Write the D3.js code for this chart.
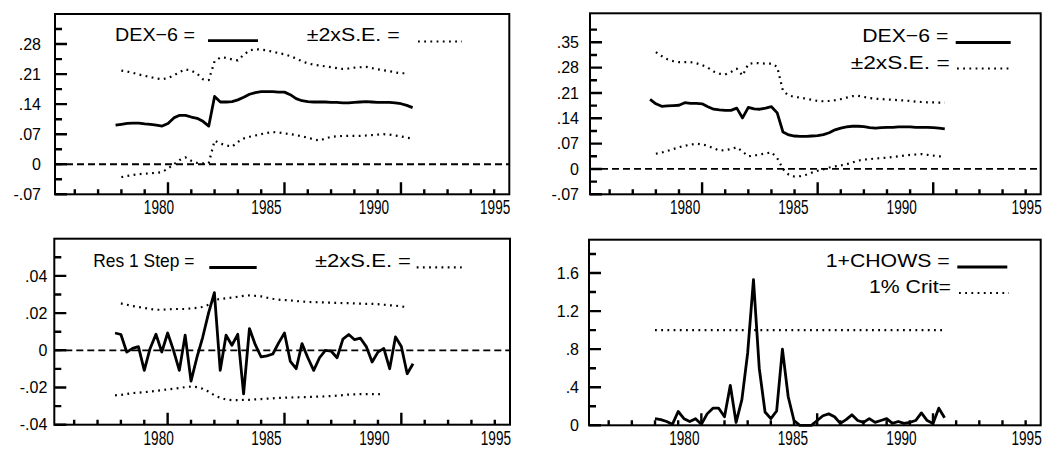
<!DOCTYPE html>
<html>
<head>
<meta charset="utf-8">
<script src="https://cdn.jsdelivr.net/npm/d3@7/dist/d3.min.js"></script>
<style>
  body { margin: 0; background: #fff; }
  svg { display: block; }
  text { font-family: "Liberation Sans", Arial, sans-serif; fill: #000; }
</style>
</head>
<body>
<svg id="chart" width="1059" height="456"></svg>
<script>
// 1 Data: quarterly recursive estimates, 1977 Q4 .. 1990 Q3
const firstQuarter = 1977.75;
const dates = d3.range(52).map((i) => firstQuarter + i / 4);

// top left: DEX-6 coefficient and +-2 S.E.
const dexA = [
  0.091, 0.093, 0.095, 0.096, 0.096, 0.094, 0.093, 0.091, 0.089, 0.095,
  0.108, 0.114, 0.114, 0.110, 0.107, 0.100, 0.089, 0.158, 0.145, 0.145,
  0.146, 0.150, 0.156, 0.163, 0.167, 0.169, 0.169, 0.169, 0.168, 0.168,
  0.162, 0.153, 0.148, 0.146, 0.145, 0.145, 0.145, 0.144, 0.144, 0.143,
  0.143, 0.144, 0.145, 0.146, 0.145, 0.144, 0.144, 0.144, 0.143, 0.141,
  0.137, 0.132,
];
const dexAUpper = [
  null, 0.218, 0.216, 0.213, 0.209, 0.206, 0.203, 0.200, 0.198, 0.201,
  0.207, 0.215, 0.221, 0.218, 0.211, 0.198, 0.196, 0.240, 0.249, 0.248,
  0.244, 0.242, 0.255, 0.265, 0.268, 0.267, 0.265, 0.262, 0.259, 0.256,
  0.252, 0.246, 0.240, 0.235, 0.232, 0.230, 0.228, 0.226, 0.224, 0.222,
  0.223, 0.225, 0.226, 0.227, 0.224, 0.221, 0.219, 0.217, 0.214, 0.212,
  0.212, null,
];
const dexALower = [
  null, -0.030, -0.027, -0.025, -0.023, -0.022, -0.021, -0.020, -0.018, -0.010,
  0.000, 0.010, 0.016, 0.008, 0.003, 0.002, 0.003, 0.055, 0.048, 0.044,
  0.041, 0.052, 0.060, 0.064, 0.067, 0.070, 0.073, 0.075, 0.074, 0.072,
  0.070, 0.068, 0.065, 0.062, 0.058, 0.055, 0.060, 0.064, 0.065, 0.066,
  0.066, 0.066, 0.066, 0.067, 0.068, 0.069, 0.070, 0.069, 0.067, 0.065,
  0.062, 0.060,
];

// top right: DEX-6 coefficient (second equation) and +-2 S.E.
const dexB = [
  0.192, 0.180, 0.173, 0.174, 0.175, 0.176, 0.183, 0.181, 0.181, 0.180,
  0.172, 0.165, 0.163, 0.162, 0.162, 0.168, 0.141, 0.170, 0.166, 0.165,
  0.168, 0.172, 0.155, 0.102, 0.094, 0.091, 0.090, 0.090, 0.091, 0.092,
  0.095, 0.100, 0.108, 0.113, 0.116, 0.118, 0.118, 0.117, 0.114, 0.113,
  0.114, 0.115, 0.115, 0.116, 0.116, 0.116, 0.115, 0.115, 0.115, 0.114,
  0.113, 0.111,
];
const dexBUpper = [
  null, 0.323, 0.312, 0.303, 0.298, 0.295, 0.295, 0.295, 0.292, 0.287,
  0.280, 0.269, 0.263, 0.261, 0.268, 0.277, 0.258, 0.290, 0.293, 0.292,
  0.291, 0.291, 0.282, 0.215, 0.203, 0.199, 0.197, 0.194, 0.191, 0.188,
  0.187, 0.188, 0.190, 0.193, 0.197, 0.201, 0.202, 0.199, 0.196, 0.194,
  0.193, 0.192, 0.191, 0.190, 0.189, 0.188, 0.186, 0.185, 0.184, 0.184,
  0.183, 0.183,
];
const dexBLower = [
  null, 0.042, 0.045, 0.050, 0.055, 0.060, 0.064, 0.067, 0.070, 0.068,
  0.064, 0.057, 0.051, 0.052, 0.055, 0.060, 0.048, 0.035, 0.037, 0.040,
  0.043, 0.046, 0.030, 0.000, -0.016, -0.021, -0.020, -0.016, -0.010, -0.005,
  -0.001, 0.004, 0.007, 0.010, 0.013, 0.018, 0.023, 0.026, 0.027, 0.029,
  0.030, 0.031, 0.033, 0.035, 0.037, 0.039, 0.040, 0.041, 0.039, 0.037,
  0.035, 0.034,
];

// bottom left: 1-step residuals and +-2 S.E.
const res1Step = [
  0.0093, 0.0085, -0.001, 0.001, 0.002, -0.0108, 0.001, 0.0086, -0.0009, 0.0093,
  0.000, -0.0108, 0.0081, -0.0166, -0.004, 0.007, 0.020, 0.031, -0.0108, 0.0081,
  0.0027, 0.0086, -0.0234, 0.0117, 0.003, -0.0036, -0.003, -0.002, 0.004, 0.0093,
  -0.006, -0.0099, 0.0036, -0.004, -0.0108, -0.004, 0.000, -0.0005, -0.004, 0.006,
  0.0085, 0.0057, 0.0065, 0.002, -0.0063, -0.001, 0.001, -0.0099, 0.0072, 0.002,
  -0.0126, -0.0072,
];
const resUpper = [
  null, 0.0252, 0.0245, 0.0238, 0.0233, 0.0228, 0.0222, 0.0218, 0.0218, 0.0220,
  0.0222, 0.0222, 0.0222, 0.0225, 0.0228, 0.0233, 0.0245, 0.0270, 0.0276, 0.0280,
  0.0283, 0.0288, 0.0293, 0.0295, 0.0293, 0.0290, 0.0283, 0.0277, 0.0272, 0.0270,
  0.0268, 0.0265, 0.0262, 0.0260, 0.0259, 0.0258, 0.0257, 0.0256, 0.0255, 0.0254,
  0.0254, 0.0252, 0.0251, 0.0250, 0.0250, 0.0248, 0.0245, 0.0242, 0.0240, 0.0236,
  0.0232, null,
];
const resLower = [
  -0.0242, -0.0240, -0.0235, -0.0230, -0.0228, -0.0225, -0.0222, -0.0218, -0.0214, -0.0210,
  -0.0207, -0.0203, -0.0198, -0.0195, -0.0198, -0.0207, -0.0222, -0.0242, -0.0255, -0.0265,
  -0.0268, -0.0268, -0.0267, -0.0266, -0.0264, -0.0262, -0.0260, -0.0258, -0.0256, -0.0255,
  -0.0254, -0.0253, -0.0252, -0.0251, -0.0250, -0.0249, -0.0248, -0.0246, -0.0244, -0.0241,
  -0.0238, -0.0237, -0.0236, -0.0236, -0.0236, -0.0236, -0.0237, null, null, null,
  null, null,
];

// bottom right: 1-step Chow tests and 1% critical value
const chows = [
  null, 0.07, 0.06, 0.04, 0.01, 0.145, 0.07, 0.04, 0.07, 0.01,
  0.12, 0.18, 0.18, 0.09, 0.42, 0.03, 0.27, 0.76, 1.53, 0.60,
  0.14, 0.07, 0.15, 0.80, 0.30, 0.05, 0.00, 0.00, 0.00, 0.05,
  0.10, 0.12, 0.09, 0.02, 0.06, 0.11, 0.05, 0.03, 0.07, 0.03,
  0.05, 0.07, 0.02, 0.04, 0.02, 0.03, 0.05, 0.13, 0.05, 0.02,
  0.18, 0.08,
];
const critValue = 1.0;

// tick values
const yearTicks = d3.range(1976, 1995);
const bigYearTicks = [1980, 1985, 1990];
const yearLabels = [1980, 1985, 1990, 1995];
const ticksA = [-0.07, 0, 0.07, 0.14, 0.21, 0.28];
const minorA = [-0.035, 0.035, 0.105, 0.175, 0.245, 0.315];
const ticksB = [-0.07, 0, 0.07, 0.14, 0.21, 0.28, 0.35];
const minorB = [-0.035, 0.035, 0.105, 0.175, 0.245, 0.315, 0.385];
const ticksRes = [-0.04, -0.02, 0, 0.02, 0.04];
const minorRes = [-0.03, -0.01, 0.01, 0.03, 0.05];
const ticksChow = [0, 0.4, 0.8, 1.2, 1.6];
const minorChow = [0.2, 0.6, 1.0, 1.4, 1.8];

// 2 Settings
const xDomain = [1975.15, 1994.65];
const svg = d3.select('#chart');

// ".28", "0", "-.07" style labels
const fmt = (digits) => (d) => {
  if (d === 0) return '0';
  const s = Math.abs(d).toFixed(digits).replace(/^0\./, '.');
  return d < 0 ? '-' + s : s;
};

const panels = [
  {
    left: 55, top: 14, width: 454.3, height: 180.3,
    yDomain: [-0.07, 0.35], ticks: ticksA, minors: minorA, format: fmt(2), gap: 14,
    zero: true, labelShift: [-9, -1.8],
    series: [
      { values: dexA, dotted: false },
      { values: dexAUpper, dotted: true },
      { values: dexALower, dotted: true },
    ],
    legend: [
      { text: 'DEX\u22126 =', x: 115, y: 40.7, len: 80, line: [208, 258, 40.7], dotted: false },
      { text: '\u00b12xS.E. =', x: 306.7, y: 40.7, len: 93, line: [418, 462, 41.5], dotted: true },
    ],
  },
  {
    left: 590, top: 13.3, width: 450.7, height: 181,
    yDomain: [-0.07, 0.43], ticks: ticksB, minors: minorB, format: fmt(2), gap: 11,
    zero: true, labelShift: [-17, -1.45],
    series: [
      { values: dexB, dotted: false },
      { values: dexBUpper, dotted: true },
      { values: dexBLower, dotted: true },
    ],
    legend: [
      { text: 'DEX\u22126 =', x: 862.3, y: 41.7, len: 86, line: [955.7, 1010.7, 42.5], dotted: false },
      { text: '\u00b12xS.E. =', x: 850.7, y: 69, len: 99, line: [957, 1010.7, 68.5], dotted: true },
    ],
  },
  {
    left: 54.3, top: 238.7, width: 455.7, height: 186,
    yDomain: [-0.04, 0.06], ticks: ticksRes, minors: minorRes, format: fmt(2), gap: 7,
    zero: true, labelShift: [-9, -1.8],
    series: [
      { values: res1Step, dotted: false },
      { values: resUpper, dotted: true },
      { values: resLower, dotted: true },
    ],
    legend: [
      { text: 'Res 1 Step =', x: 93.3, y: 267.3, len: 101, line: [209.3, 256.7, 267.5], dotted: false },
      { text: '\u00b12xS.E. =', x: 315, y: 267.3, len: 96, line: [416.7, 461.7, 267.3], dotted: true },
    ],
  },
  {
    left: 589, top: 239.7, width: 451.7, height: 185.6,
    yDomain: [0, 1.95], ticks: ticksChow, minors: minorChow, format: fmt(1), gap: 10,
    zero: false, labelShift: [-17, -1.45],
    series: [
      { values: chows, dotted: false },
      { values: dates.map((d, i) => (i === 1 || i === 51 ? critValue : null)), dotted: true, span: true },
    ],
    legend: [
      { text: '1+CHOWS =', x: 825.7, y: 267, len: 124, line: [957.3, 1007.3, 267], dotted: false },
      { text: '1% Crit=', x: 869, y: 293, len: 82, line: [959, 1009, 293], dotted: true },
    ],
  },
];

const styleLine = (sel, dotted) => {
  sel
    .attr('fill', 'none')
    .attr('stroke', '#000')
    .attr('stroke-width', dotted ? 2.2 : 2.8)
    .attr('stroke-linejoin', 'round')
    .attr('stroke-dasharray', dotted ? '1.8,4.4' : null);
};

// 3 Draw each panel
panels.forEach((p) => {
  const g = svg.append('g').attr('transform', `translate(${p.left},${p.top})`);

  const x = d3.scaleLinear().domain(xDomain).range([0, p.width]);
  const y = d3.scaleLinear().domain(p.yDomain).range([p.height, 0]);

  // dashed zero line
  if (p.zero) {
    g.append('line')
      .attr('x1', 0)
      .attr('x2', p.width)
      .attr('y1', y(0))
      .attr('y2', y(0))
      .attr('stroke', '#000')
      .attr('stroke-width', 1.8)
      .attr('stroke-dasharray', '7,4');
  }

  // series
  p.series.forEach((s) => {
    const pts = dates.map((d, i) => [d, s.values[i]]);
    const line = d3
      .line()
      .defined((d) => d[1] !== null)
      .x((d) => x(d[0]))
      .y((d) => y(d[1]));
    const data = s.span ? pts.filter((d) => d[1] !== null) : pts;
    g.append('path').attr('d', line(data)).call(styleLine, s.dotted);
  });

  // tick marks, all pointing inward, built as one path
  const xTickPath = yearTicks
    .map((v) => `M${x(v)},${p.height}V${p.height - (bigYearTicks.includes(v) ? 12 : 5)}`)
    .join('');
  const yTickPath = p.ticks
    .map((v) => `M0,${y(v)}H12`)
    .concat(p.minors.map((v) => `M0,${y(v)}H7`))
    .join('');
  g.append('path')
    .attr('d', xTickPath + yTickPath)
    .attr('fill', 'none')
    .attr('stroke', '#000')
    .attr('stroke-width', 2.4);

  // year labels (drawn narrow, like the plotter font)
  yearLabels.forEach((v) => {
    const cx = v === 1995 ? p.width + 1 : x(v) + p.labelShift[0] + (v - 1980) * p.labelShift[1];
    g.append('text')
      .attr('transform', `translate(${cx},${p.height + 20}) scale(0.68,1)`)
      .attr('text-anchor', v === 1995 ? 'end' : 'middle')
      .attr('font-size', 20)
      .text(v);
  });

  // y labels
  p.ticks.forEach((v) => {
    g.append('text')
      .attr('x', -p.gap)
      .attr('y', y(v))
      .attr('dy', '0.36em')
      .attr('text-anchor', 'end')
      .attr('font-size', 16)
      .text(p.format(v));
  });

  // frame
  g.append('rect')
    .attr('width', p.width)
    .attr('height', p.height)
    .attr('fill', 'none')
    .attr('stroke', '#000')
    .attr('stroke-width', 2);

  // legend
  p.legend.forEach((l) => {
    svg.append('text')
      .attr('x', l.x)
      .attr('y', l.y)
      .attr('font-size', 19)
      .attr('textLength', l.len)
      .attr('lengthAdjust', 'spacingAndGlyphs')
      .text(l.text);
    svg.append('line')
      .attr('x1', l.line[0])
      .attr('x2', l.line[1])
      .attr('y1', l.line[2])
      .attr('y2', l.line[2])
      .call(styleLine, l.dotted);
  });
});
</script>
</body>
</html>
